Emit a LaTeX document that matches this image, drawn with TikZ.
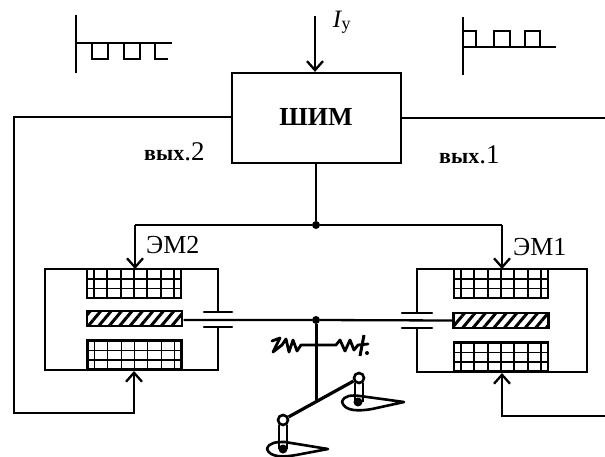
\documentclass[tikz,border=0pt]{standalone}
\usepackage{fontspec}
\setmainfont{Liberation Serif}
\usetikzlibrary{arrows.meta,patterns,patterns.meta,calc}
\tikzset{
 wire/.style={line width=2.3pt,line join=miter},
 arr/.style={wire,-{Straight Barb[length=9pt,width=16pt,line width=2.3pt]}},
 thin wire/.style={line width=1.9pt},
 coilbox/.style={draw,line width=2.2pt,minimum width=94pt,minimum height=29pt,inner sep=0pt},
 coilgrid/.style={line width=1.8pt},
 armature/.style={draw,line width=2.4pt,minimum width=95pt,minimum height=15pt,inner sep=0pt,pattern={Lines[angle=50,distance=8pt,line width=3pt]},pattern color=black},
 lbl/.style={inner sep=0pt},
 junction/.style={circle,fill=black,inner sep=0pt,minimum size=8pt},
 roller/.style={circle,draw,fill=white,line width=2.6pt,inner sep=0pt,minimum size=10pt},
 mech/.style={line width=2.8pt,line cap=round,line join=round}
}
\newcommand{\coilgridat}[1]{%
 \begin{scope}[shift={(#1)}]
  \foreach \dx in {-40,-27,-13,0,13,27,40} \draw[coilgrid] (\dx,-14.5) -- (\dx,14.5);
  \foreach \dy in {-4.5,5} \draw[coilgrid] (-47,\dy) -- (47,\dy);
 \end{scope}}
\begin{document}
\begin{tikzpicture}[x=1pt,y=-1pt]
\useasboundingbox (0,0) rectangle (605,456);
% control box
\node[draw,wire,minimum width=169pt,minimum height=90pt,inner sep=0pt] (pwm) at (316.5,118) {};
\node[inner sep=0pt,font=\fontsize{26}{26}\selectfont\bfseries] (pwmtext) at (316,117) {ШИМ};
\coordinate (iy) at (315,16);
\draw[arr] (iy) -- (iy |- pwm.north);
\node[inner sep=0pt,font=\fontsize{25}{25}\selectfont\itshape] (iylbl) at (337,19) {I};
\node[inner sep=0pt,font=\fontsize{18}{18}\selectfont] (iysub) at (346,27) {у};
% waveforms
\draw[thin wire] (76,15) -- (76,73);
\draw[thin wire] (76,43) -- (172,43);
\draw[thin wire] (92,43) -- (92,59) -- (108,59) -- (108,43)
  (124,43) -- (124,59) -- (140,59) -- (140,43)
  (155,43) -- (155,59) -- (168,59);
\draw[thin wire] (463,17) -- (463,75);
\draw[thin wire] (463,47) -- (556,47);
\draw[thin wire] (463,31) -- (476,31) -- (476,47)
  (494,47) -- (494,31) -- (510,31) -- (510,47)
  (525,47) -- (525,31) -- (540,31) -- (540,47);
% labels
\node[lbl,anchor=base west] (out2) at (144,160) {\fontsize{22}{22}\selectfont\bfseries вых\fontsize{27}{27}\mdseries.2};
\node[lbl,anchor=base west] (out1) at (439,163) {\fontsize{22}{22}\selectfont\bfseries вых\fontsize{27}{27}\mdseries.1};
\node[lbl,anchor=base west,font=\fontsize{26}{26}\selectfont] (em2) at (146,253) {ЭМ2};
\node[lbl,anchor=base west,font=\fontsize{26}{26}\selectfont] (em1) at (513,255) {ЭМ1};
% junctions
\node[junction] (top) at (316,225) {};
\node[junction] (shaft) at (316,320) {};
% left EM
\draw[wire] (87,269) -- (45,269) -- (45,370) -- (87,370);
\draw[wire] (181,269) -- (218,269) -- (218,311);
\draw[wire] (182,370) -- (218,370) -- (218,327);
\draw[wire,line cap=round] (204,312) -- (232,312);
\draw[wire,line cap=round] (204,327) -- (232,327);
\node[coilbox] (cl1) at (134,283.5) {};
\node[coilbox] (cl2) at (134.5,355) {};
\node[armature] (al) at (134.5,318.5) {};
\coilgridat{134,283.5}
\coilgridat{134.5,355}
% right EM
\draw[wire] (454,269) -- (417,269) -- (417,313);
\draw[wire] (454,372) -- (417,372) -- (417,328);
\draw[wire] (548,269) -- (587,269) -- (587,372) -- (548,372);
\draw[wire,line cap=round] (402,313) -- (432,313);
\draw[wire,line cap=round] (402,328) -- (432,328);
\node[coilbox] (cr1) at (501,283.5) {};
\node[coilbox] (cr2) at (501,357) {};
\node[armature] (ar) at (501,320.5) {};
\coilgridat{501,283.5}
\coilgridat{501,357}
% shaft
\draw[wire] (al.east) ++(0,1.5) -- (shaft) -- (ar.west);
% connectors
\draw[wire] (pwm.south -| top) -- (top);
\coordinate (l1) at (135,225); \coordinate (r1) at (502,225);
\draw[wire] (top) -- (l1);
\draw[wire] (top) -- (r1);
\draw[arr] (l1) -- (135,269);
\draw[arr] (r1) -- (502,269);
\coordinate (fl1) at (14,117); \coordinate (fl2) at (14,413); \coordinate (fl3) at (134,413);
\draw[arr] (fl1 -| pwm.west) -- (fl1) -- (fl2) -- (fl3) -- (134,371);
\coordinate (fr1) at (605,118); \coordinate (fr2) at (502,416);
\draw[wire] (pwm.east) -- (fr1);
\draw[arr] (605,416) -- (fr2) -- (502,373);
% spring
\draw[mech] (272,341) -- (280,338) -- (273,352) -- (282,345) -- (286,339) -- (289,352) -- (293,340) -- (297,351) -- (301,345) -- (336,345) -- (340,340) -- (345,351) -- (350,340) -- (354,350) -- (358,345) -- (368,344);
\draw[line width=3pt] (364,335) -- (360,356);
\fill (367,353) circle (2pt);
% rod and lever
\draw[line width=3pt] (shaft) -- (316,400);
\node[roller] (ru) at (359,378) {};
\node[roller] (rl) at (283,420) {};
\draw[line width=3.2pt] (rl) -- (ru);
% cams
\draw[line width=2.6pt,fill=white,line join=round] (342,402) .. controls (344,395) and (352,395) .. (360,396) -- (404,402) -- (372,409) .. controls (360,411) and (345,412) .. (342,402) -- cycle;
\draw[line width=2.6pt,fill=white,line join=round] (267,449) .. controls (269,442) and (277,442) .. (285,442) -- (328,449) -- (296,455) .. controls (285,457) and (270,458) .. (267,449) -- cycle;
\draw[line width=2.6pt] (355,383) -- (355,402) (363,383) -- (363,402);
\draw[line width=2.6pt] (279,425) -- (279,449) (287,425) -- (287,449);
\fill (358,402) circle (4.5pt);
\fill (283,449) circle (4.5pt);
\end{tikzpicture}
\end{document}
